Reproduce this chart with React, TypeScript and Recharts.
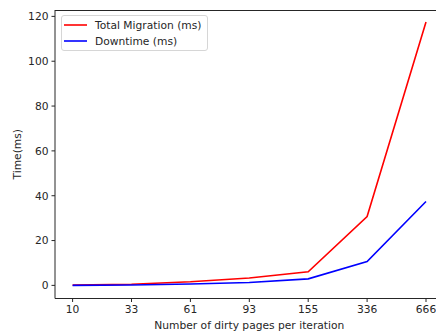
import { LineChart, Line, XAxis, YAxis } from "recharts";

const pages = ["10", "33", "61", "93", "155", "336", "666"];
const totalMigration = [0.1, 0.5, 1.6, 3.3, 6.1, 30.7, 117.5];
const downtime = [0.0, 0.2, 0.6, 1.3, 2.9, 10.6, 37.4];
const yTicks = [0, 20, 40, 60, 80, 100, 120];

const seriesInfo = [
  { key: "total", name: "Total Migration (ms)", color: "#ff0000" },
  { key: "down", name: "Downtime (ms)", color: "#0000ff" },
];

const data = pages.map((p, i) => ({
  pages: p,
  total: totalMigration[i],
  down: downtime[i],
}));

const FONT = "'DejaVu Sans', sans-serif";
const INK = "#262626";

// plot box, matches chart margins + axis sizes below
const PLOT = { left: 55, top: 10, width: 388.6, height: 288.5 };

function MplLegend() {
  return (
    <div
      style={{
        position: "absolute",
        left: 61,
        top: 15,
        boxSizing: "border-box",
        width: 147,
        height: 36,
        border: "1px solid #d6d6d6",
        borderRadius: 3,
        background: "rgba(255,255,255,0.8)",
        padding: "1px 0 0 2px",
        fontFamily: FONT,
        fontSize: 10.7,
        color: INK,
      }}
    >
      {seriesInfo.map((s) => (
        <div
          key={s.key}
          style={{ display: "flex", alignItems: "center", height: 16 }}
        >
          <svg width={23} height={4} style={{ marginRight: 8 }}>
            <line x1={0} y1={2} x2={23} y2={2} stroke={s.color} strokeWidth={1.6} />
          </svg>
          <span>{s.name}</span>
        </div>
      ))}
    </div>
  );
}

function YLabel({ viewBox }: any) {
  const cy = viewBox.y + viewBox.height / 2;
  return (
    <text
      x={17}
      y={cy}
      transform={`rotate(-90, 17, ${cy})`}
      textAnchor="middle"
      dominantBaseline="central"
      fill={INK}
      fontSize={10.7}
      fontFamily={FONT}
    >
      Time(ms)
    </text>
  );
}

export default function App() {
  return (
    <div
      style={{
        position: "absolute",
        left: 0,
        top: 0,
        width: 436,
        height: 332,
        overflow: "hidden",
        background: "#fff",
      }}
    >
      <LineChart
        width={450}
        height={332}
        data={data}
        margin={{ top: 10, right: 6.4, left: 0, bottom: 0 }}
        style={{ fontFamily: FONT }}
      >
        <XAxis
          dataKey="pages"
          height={33.5}
          padding={{ left: 17.6, right: 17.6 }}
          tickSize={3.5}
          tickMargin={3}
          tick={{ fill: INK, fontSize: 10.7 }}
          stroke={INK}
          axisLine={{ stroke: INK, strokeWidth: 1 }}
          tickLine={{ stroke: INK }}
          label={{
            value: "Number of dirty pages per iteration",
            position: "insideBottom",
            offset: 3,
            fill: INK,
            fontSize: 10.7,
          }}
        />
        <YAxis
          type="number"
          width={55}
          domain={[-5.85, 122.85]}
          ticks={yTicks}
          allowDataOverflow
          tickSize={3.5}
          tickMargin={3}
          tick={{ fill: INK, fontSize: 10.7 }}
          axisLine={{ stroke: INK, strokeWidth: 1 }}
          tickLine={{ stroke: INK }}
          label={<YLabel />}
        />
        {seriesInfo.map((s) => (
          <Line
            key={s.key}
            type="linear"
            dataKey={s.key}
            name={s.name}
            stroke={s.color}
            strokeWidth={1.6}
            dot={false}
            activeDot={false}
            isAnimationActive={false}
          />
        ))}
      </LineChart>
      {/* top/right spines */}
      <div
        style={{
          position: "absolute",
          left: PLOT.left,
          top: PLOT.top - 0.5,
          width: PLOT.width,
          height: PLOT.height,
          borderTop: `1px solid ${INK}`,
          borderRight: `1px solid ${INK}`,
          pointerEvents: "none",
        }}
      />
      <MplLegend />
    </div>
  );
}
